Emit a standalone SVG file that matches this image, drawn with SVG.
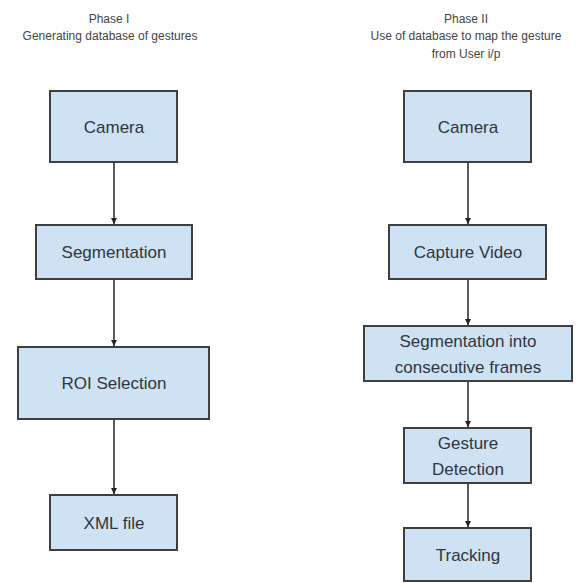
<svg xmlns="http://www.w3.org/2000/svg" width="586" height="583" viewBox="0 0 586 583">
<defs>
<style>
.box{fill:#cfe2f3;stroke:#3f3f3f;stroke-width:2}
.lbl{font-family:"Liberation Sans",Arial,sans-serif;font-size:17px;fill:#2f3640;text-anchor:middle}
.ttl{font-family:"Liberation Sans",Arial,sans-serif;font-size:12px;fill:#444;text-anchor:middle}
.edge{stroke:#333;stroke-width:1.6;fill:none;marker-end:url(#ah)}
</style>
<marker id="ah" viewBox="0 0 10 10" refX="10" refY="5" markerWidth="4" markerHeight="4" orient="auto" markerUnits="strokeWidth">
<path d="M0,0 L10,5 L0,10 z" fill="#222"/>
</marker>
</defs>
<rect width="586" height="583" fill="#fff"/>
<g id="titles">
<text class="ttl" x="109" y="23">Phase I</text>
<text class="ttl" x="110" y="40">Generating database of gestures</text>
<text class="ttl" x="466" y="23">Phase II</text>
<text class="ttl" x="466" y="40">Use of database to map the gesture</text>
<text class="ttl" x="466" y="58">from User i/p</text>
</g>
<g id="connectors">
<line class="edge" x1="114" y1="162" x2="114" y2="224"/>
<line class="edge" x1="114" y1="279" x2="114" y2="346"/>
<line class="edge" x1="114" y1="419" x2="114" y2="494"/>
<line class="edge" x1="468" y1="162" x2="468" y2="224"/>
<line class="edge" x1="468" y1="279" x2="468" y2="325"/>
<line class="edge" x1="468" y1="381" x2="468" y2="427"/>
<line class="edge" x1="468" y1="483" x2="468" y2="527"/>
</g>
<g id="p1-camera"><rect class="box" x="50" y="91" width="127" height="71"/><text class="lbl" x="114" y="133">Camera</text></g>
<g id="p1-segmentation"><rect class="box" x="36" y="225" width="156" height="54"/><text class="lbl" x="114" y="258">Segmentation</text></g>
<g id="p1-roi"><rect class="box" x="18" y="347" width="191" height="72"/><text class="lbl" x="114" y="389">ROI Selection</text></g>
<g id="p1-xml"><rect class="box" x="50" y="495" width="127" height="55"/><text class="lbl" x="114" y="529">XML file</text></g>
<g id="p2-camera"><rect class="box" x="404" y="91" width="127" height="71"/><text class="lbl" x="468" y="133">Camera</text></g>
<g id="p2-capture"><rect class="box" x="389" y="225" width="157" height="54"/><text class="lbl" x="468" y="258">Capture Video</text></g>
<g id="p2-segmentation"><rect class="box" x="364" y="326" width="208" height="55"/><text class="lbl" x="468" y="347">Segmentation into</text><text class="lbl" x="468" y="373">consecutive frames</text></g>
<g id="p2-gesture"><rect class="box" x="404" y="428" width="127" height="55"/><text class="lbl" x="468" y="449">Gesture</text><text class="lbl" x="468" y="475">Detection</text></g>
<g id="p2-tracking"><rect class="box" x="404" y="528" width="127" height="53"/><text class="lbl" x="468" y="561">Tracking</text></g>
</svg>
